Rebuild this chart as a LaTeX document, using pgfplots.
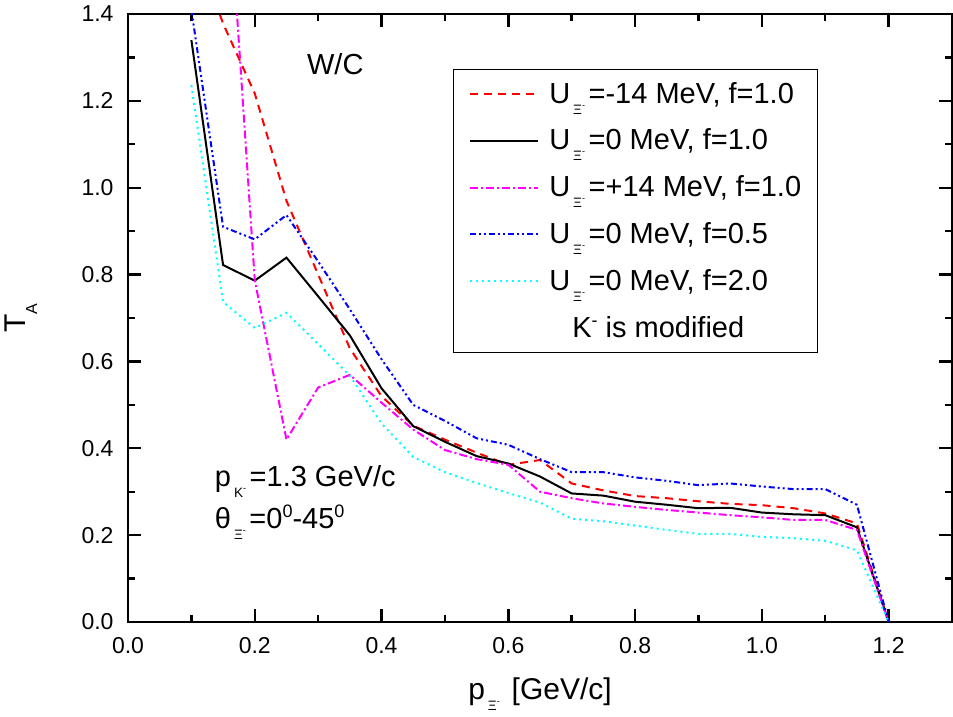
\documentclass[border=0pt]{standalone}
\usepackage{pgfplots}
\pgfplotsset{compat=1.18}
\usepackage{fontspec}
\setmainfont{Liberation Sans}
\definecolor{cRed}{RGB}{255,0,0}
\definecolor{cMag}{RGB}{255,0,255}
\definecolor{cBlue}{RGB}{0,0,255}
\definecolor{cCyan}{RGB}{0,255,255}
\newcommand\lowsub[1]{\kern1.5pt\raisebox{-5.5pt}{\fontsize{6.8}{7}\selectfont #1}\kern1.8pt\relax}
\newcommand\XiM{Ξ\raisebox{3pt}{\fontsize{4.5}{5}\selectfont -}}
\newcommand\supr[1]{\raisebox{5.5pt}{\fontsize{9}{10}\selectfont #1}}
\begin{document}
\begin{tikzpicture}
\useasboundingbox (-64pt,-47.5pt) rectangle (412.5pt,311pt);
\begin{axis}[
  scale only axis, width=412pt, height=304pt,
  xmin=0, xmax=1.3, ymin=0, ymax=1.4,
  xtick={0,0.2,0.4,0.6,0.8,1.0,1.2},
  ytick={0,0.2,0.4,0.6,0.8,1.0,1.2,1.4},
  minor x tick num=1, minor y tick num=1,
  tick align=inside, tick pos=both,
  major tick length=6.5pt, minor tick length=3.5pt,
  axis line style={line width=1.3pt},
  every tick/.style={black, line width=1.2pt},
  /pgf/number format/fixed, /pgf/number format/fixed zerofill,
  /pgf/number format/precision=1,
  /pgf/number format/assume math mode=true,
  tick label style={font=\fontsize{11.5}{13}\selectfont},
  xticklabel style={yshift=-4pt},
  yticklabel style={xshift=-3.7pt},
  xlabel={p\lowsub{\XiM} [GeV/c]},
  ylabel={T\raisebox{-6pt}{\fontsize{8}{9}\selectfont A}},
  xlabel style={at={(axis description cs:0.5,-0.128)}, anchor=base, font=\fontsize{15}{18}\selectfont},
  ylabel style={at={(axis description cs:-0.13,0.5)}, anchor=center, font=\fontsize{15}{18}\selectfont},
  legend image code/.code={\draw[#1] (0pt,0pt) -- (34pt,0pt);},
  legend cell align=left,
  legend style={at={(rel axis cs:0.394,0.9095)}, anchor=north west, draw=black, line width=0.6pt,
    inner xsep=8pt, inner ysep=0.5pt, font=\fontsize{14.5}{17}\selectfont, row sep=0pt,
    nodes={text height=16.25pt, text depth=7.15pt, inner sep=0pt},
    /tikz/every odd column/.append style={column sep=5pt}},
]
\addplot[cRed, line width=1pt, dash pattern=on 4pt off 3pt] coordinates {
(0.1,1.58) (0.15,1.378) (0.2,1.217) (0.25,0.97) (0.3,0.80) (0.35,0.63) (0.4,0.52)
(0.45,0.452) (0.5,0.42) (0.55,0.39) (0.6,0.362) (0.65,0.373) (0.7,0.319) (0.75,0.303)
(0.8,0.29) (0.85,0.285) (0.9,0.278) (0.95,0.272) (1.0,0.269) (1.05,0.262) (1.1,0.25)
(1.15,0.227) (1.2,0.0)};
\addlegendentry{U\lowsub{\XiM}=-14 MeV, f=1.0}
\addplot[black, line width=1pt] coordinates {
(0.1,1.340) (0.15,0.822) (0.2,0.786) (0.25,0.839) (0.3,0.75) (0.35,0.660) (0.4,0.538)
(0.45,0.451) (0.5,0.415) (0.55,0.382) (0.6,0.365) (0.65,0.335) (0.7,0.296) (0.75,0.291)
(0.8,0.277) (0.85,0.27) (0.9,0.262) (0.95,0.263) (1.0,0.252) (1.05,0.248) (1.1,0.246)
(1.15,0.218) (1.2,0.0)};
\addlegendentry{U\lowsub{\XiM}=0 MeV, f=1.0}
\addplot[cMag, line width=1pt, dash pattern=on 4pt off 1.5pt on 1pt off 1.5pt] coordinates {
(0.1,2.6) (0.15,1.88) (0.2,0.787) (0.25,0.42) (0.3,0.54) (0.35,0.569) (0.4,0.505)
(0.45,0.443) (0.5,0.396) (0.55,0.375) (0.6,0.362) (0.65,0.300) (0.7,0.285) (0.75,0.273)
(0.8,0.265) (0.85,0.258) (0.9,0.252) (0.95,0.246) (1.0,0.241) (1.05,0.235) (1.1,0.235)
(1.15,0.212) (1.2,0.0)};
\addlegendentry{U\lowsub{\XiM}=+14 MeV, f=1.0}
\addplot[cBlue, line width=1pt, dash pattern=on 3pt off 1.5pt on 1pt off 1.5pt on 1pt off 1.5pt] coordinates {
(0.1,1.41) (0.15,0.91) (0.2,0.881) (0.25,0.937) (0.3,0.83) (0.35,0.72) (0.4,0.605)
(0.45,0.50) (0.5,0.463) (0.55,0.423) (0.6,0.408) (0.65,0.375) (0.7,0.345) (0.75,0.345)
(0.8,0.333) (0.85,0.325) (0.9,0.315) (0.95,0.319) (1.0,0.312) (1.05,0.306) (1.1,0.306)
(1.15,0.27) (1.2,0.0)};
\addlegendentry{U\lowsub{\XiM}=0 MeV, f=0.5}
\addplot[cCyan, line width=1pt, dash pattern=on 1pt off 2pt] coordinates {
(0.1,1.236) (0.15,0.737) (0.2,0.677) (0.25,0.712) (0.3,0.64) (0.35,0.567) (0.4,0.457)
(0.45,0.38) (0.5,0.345) (0.55,0.32) (0.6,0.297) (0.65,0.275) (0.7,0.238) (0.75,0.232)
(0.8,0.222) (0.85,0.212) (0.9,0.203) (0.95,0.203) (1.0,0.196) (1.05,0.193) (1.1,0.187)
(1.15,0.165) (1.2,0.0)};
\addlegendentry{U\lowsub{\XiM}=0 MeV, f=2.0}
\addlegendimage{empty legend}
\addlegendentry{\hspace{11.5pt}K\supr{-} is modified}
\node[font=\fontsize{14.5}{17}\selectfont, anchor=center] at (axis cs:0.327,1.285) {W/C};
\node[font=\fontsize{14.5}{17}\selectfont, anchor=base west, inner sep=0pt] at (axis cs:0.1365,0.313) {p\lowsub{K\raisebox{3pt}{\fontsize{4.5}{5}\selectfont -}}=1.3 GeV/c};
\node[font=\fontsize{14.5}{17}\selectfont, anchor=base west, inner sep=0pt] at (axis cs:0.1365,0.216) {θ\lowsub{\XiM}=0\supr{0}-45\supr{0}};
\end{axis}
\end{tikzpicture}
\end{document}
